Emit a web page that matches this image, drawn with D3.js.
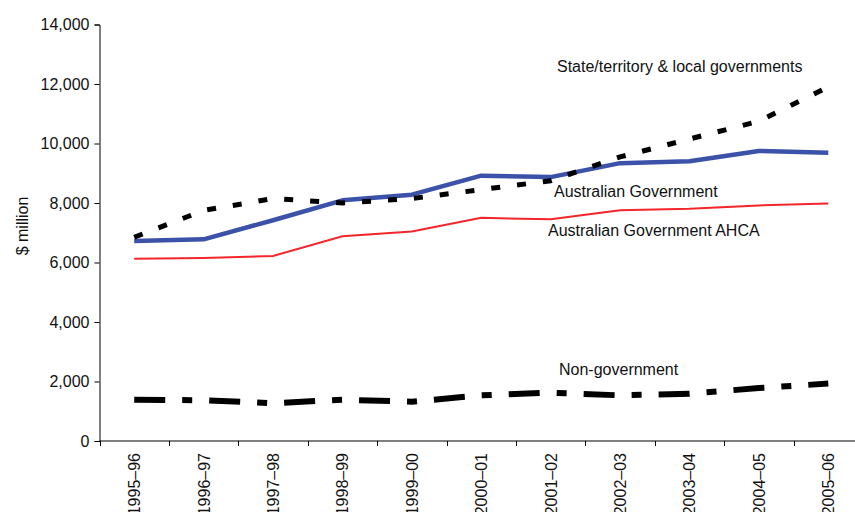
<!DOCTYPE html>
<html>
<head>
<meta charset="utf-8">
<script src="https://cdn.jsdelivr.net/npm/d3@7"></script>
<style>
  html, body { margin: 0; padding: 0; background: #fff; }
  svg { display: block; }
  text { font-family: "Liberation Sans", Arial, sans-serif; fill: #111; }
</style>
</head>
<body>
<svg id="chart" width="855" height="512"></svg>
<script>
const categories = ["1995–96","1996–97","1997–98","1998–99","1999–00","2000–01","2001–02","2002–03","2003–04","2004–05","2005–06"];
const stateLocal = [6850, 7750, 8150, 8000, 8150, 8450, 8750, 9550, 10150, 10750, 11900];
const ausGov = [6720, 6780, 7420, 8090, 8280, 8920, 8870, 9340, 9400, 9750, 9690];
const ausGovAHCA = [6130, 6150, 6220, 6880, 7040, 7500, 7450, 7760, 7810, 7920, 7980];
const nonGov = [1390, 1370, 1270, 1390, 1320, 1535, 1625, 1535, 1590, 1780, 1930];
const yTicks = [0, 2000, 4000, 6000, 8000, 10000, 12000, 14000];
const annotations = [
  {text: "State/territory & local governments", x: 557, y: 72},
  {text: "Australian Government", x: 554, y: 197},
  {text: "Australian Government AHCA", x: 548, y: 236},
  {text: "Non-government", x: 559, y: 375}
];

const svg = d3.select("#chart");
const x = d3.scaleBand().domain(categories).range([99.5, 863]).paddingInner(0).paddingOuter(0);
const y = d3.scaleLinear().domain([0, 14000]).range([441, 24.5]);

// Y axis
const yAxis = d3.axisLeft(y).tickValues(yTicks).tickFormat(d3.format(",")).tickSize(5).tickPadding(5);
const gy = svg.append("g").attr("transform", "translate(99.5,0)").call(yAxis);
gy.selectAll("path, line").attr("stroke", "#000");
gy.selectAll("text").style("font-size", "16px").attr("fill", "#111");

// X axis with ticks at band boundaries
const gx = svg.append("g").attr("transform", "translate(0,441)");
gx.append("line").attr("x1", 99.5).attr("x2", 863).attr("y1", 0).attr("y2", 0).attr("stroke", "#000");
const bounds = categories.map(c => x(c)).concat([x(categories[categories.length-1]) + x.bandwidth()]);
gx.selectAll("line.tick").data(bounds).enter().append("line").attr("class", "tick")
  .attr("x1", d => Math.round(d) + 0.5).attr("x2", d => Math.round(d) + 0.5)
  .attr("y1", 0).attr("y2", 5).attr("stroke", "#000");
gx.selectAll("text.lab").data(categories).enter().append("text").attr("class", "lab")
  .attr("transform", d => `translate(${x(d) + x.bandwidth()/2 + 6},12) rotate(-90)`)
  .attr("text-anchor", "end")
  .style("font-size", "16px")
  .text(d => d);

// Y title
svg.append("text").attr("transform", "translate(28,226) rotate(-90)")
  .attr("text-anchor", "middle").style("font-size", "16px").text("$ million");

const cx = d => x(d) + x.bandwidth()/2;
const line = d3.line().x(d => cx(d.c)).y(d => y(d.v));
const mk = arr => categories.map((c, i) => ({c, v: arr[i]}));

svg.append("path").datum(mk(ausGovAHCA)).attr("d", line)
  .attr("fill", "none").attr("stroke", "#F2262B").attr("stroke-width", 2);
svg.append("path").datum(mk(ausGov)).attr("d", line)
  .attr("fill", "none").attr("stroke", "#3B52A8").attr("stroke-width", 4.5).attr("stroke-linejoin", "round");
svg.append("path").datum(mk(stateLocal)).attr("d", line)
  .attr("fill", "none").attr("stroke", "#000").attr("stroke-width", 5).attr("stroke-dasharray", "9,17");
svg.append("path").datum(mk(nonGov)).attr("d", line)
  .attr("fill", "none").attr("stroke", "#000").attr("stroke-width", 6).attr("stroke-dasharray", "31,17,10,17");

svg.selectAll("text.ann").data(annotations).enter().append("text").attr("class", "ann")
  .attr("x", d => d.x).attr("y", d => d.y).style("font-size", "16px").text(d => d.text);
</script>
</body>
</html>
